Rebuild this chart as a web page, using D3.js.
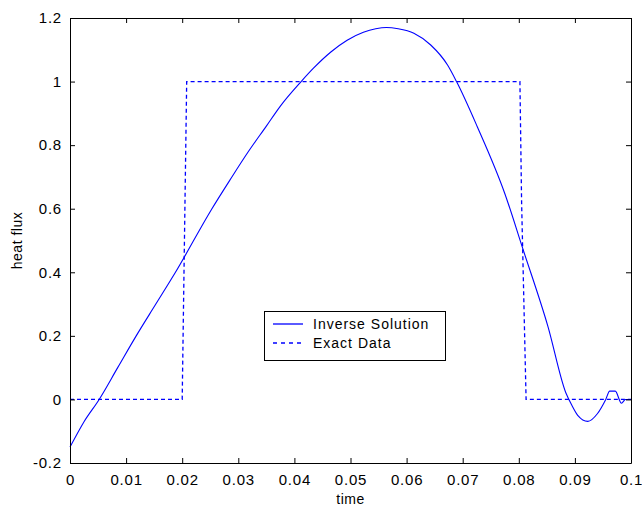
<!DOCTYPE html>
<html><head><meta charset="utf-8">
<script src="https://cdn.jsdelivr.net/npm/d3@7"></script>
<style>body{margin:0;background:#fff}svg text{font-family:Arial,"Liberation Sans",sans-serif}</style>
</head><body>
<svg id="chart" width="642" height="512"></svg>
<script>
const inverseT = [0,0.0025,0.0052,0.0085,0.0118,0.0153,0.0188,0.0253,0.0285,0.0318,0.035,0.0375,0.0412,0.0434,0.0465,0.0494,0.0523,0.0545,0.0564,0.0585,0.0613,0.0643,0.0673,0.0689,0.0726,0.0775,0.0807,0.0852,0.0884,0.0895,0.0905,0.0923,0.094,0.0955,0.0962,0.0972,0.0983,0.099,0.1];
const inverseV = [-0.15,-0.07,0,0.1,0.2,0.3,0.4,0.6,0.69,0.78,0.86,0.923,1.0,1.042,1.093,1.13,1.155,1.166,1.170,1.166,1.152,1.115,1.052,1.0,0.858,0.648,0.475,0.229,0.02,-0.02,-0.05,-0.069,-0.045,0,0.026,0.026,-0.012,0,0];
const exactT = [0,0.02,0.0208,0.0802,0.0805,0.0813,0.1];
const exactV = [0,0,1,1,0.62,0,0];
const xTicks = [0,0.01,0.02,0.03,0.04,0.05,0.06,0.07,0.08,0.09,0.1];
const xTickLabels = ["0","0.01","0.02","0.03","0.04","0.05","0.06","0.07","0.08","0.09","0.1"];
const yTicks = [-0.2,0,0.2,0.4,0.6,0.8,1,1.2];
const yTickLabels = ["-0.2","0","0.2","0.4","0.6","0.8","1","1.2"];
const seriesNames = ["Inverse Solution","Exact Data"];

const svg = d3.select("#chart");
const L=70,R=631,T=18,B=463;
const x = d3.scaleLinear().domain([0,0.1]).range([L,R]);
const y = d3.scaleLinear().domain([-0.2,1.2]).range([B,T]);
const blue = "#0000ff";

const line = d3.line().x(d=>x(d[0])).y(d=>y(d[1]));
const inv = inverseT.map((t,i)=>[t,inverseV[i]]);
const ex = exactT.map((t,i)=>[t,exactV[i]]);

svg.append("path").datum(ex).attr("d",line).attr("fill","none").attr("stroke",blue).attr("stroke-width",1.3).attr("stroke-dasharray","4,3");
svg.append("path").datum(inv).attr("d",line.curve(d3.curveMonotoneX)).attr("fill","none").attr("stroke",blue).attr("stroke-width",1.1);

// axes (box with inward ticks)
const fmtX = (d,i)=>xTickLabels[i], fmtY=(d,i)=>yTickLabels[i];
const gB = svg.append("g").attr("transform",`translate(0,${B})`).call(d3.axisBottom(x).tickValues(xTicks).tickFormat(fmtX).tickSizeInner(-5).tickSizeOuter(0).tickPadding(11));
const gL = svg.append("g").attr("transform",`translate(${L},0)`).call(d3.axisLeft(y).tickValues(yTicks).tickFormat(fmtY).tickSizeInner(-5).tickSizeOuter(0).tickPadding(8));
const gT = svg.append("g").attr("transform",`translate(0,${T})`).call(d3.axisTop(x).tickValues(xTicks).tickFormat("").tickSizeInner(-5).tickSizeOuter(0));
const gR = svg.append("g").attr("transform",`translate(${R},0)`).call(d3.axisRight(y).tickValues(yTicks).tickFormat("").tickSizeInner(-5).tickSizeOuter(0));
[gB,gL,gT,gR].forEach(g=>{
  g.selectAll("path").attr("stroke","#000");
  g.selectAll("line").attr("stroke","#000");
  g.selectAll("text").attr("font-size",15).attr("letter-spacing","0.8px").attr("fill","#000").attr("font-family","Arial, 'Liberation Sans', sans-serif");
});

svg.append("text").attr("x",(L+R)/2).attr("y",504).attr("text-anchor","middle").attr("font-size",14).attr("letter-spacing","0.5px").text("time");
svg.append("text").attr("transform",`translate(22,${(T+B)/2}) rotate(-90)`).attr("text-anchor","middle").attr("font-size",14).attr("letter-spacing","0.5px").text("heat flux");

// legend
const lg = svg.append("g");
lg.append("rect").attr("x",264.5).attr("y",311.5).attr("width",181).attr("height",49).attr("fill","#fff").attr("stroke","#000");
seriesNames.forEach((n,i)=>{
  const yy = 324 + i*19;
  lg.append("line").attr("x1",273).attr("x2",303).attr("y1",yy).attr("y2",yy).attr("stroke",blue).attr("stroke-width",1.3).attr("stroke-dasharray",i?"4,4":null);
  lg.append("text").attr("x",313).attr("y",yy+5).attr("font-size",14).attr("letter-spacing","1px").text(n);
});
</script>
</body></html>
